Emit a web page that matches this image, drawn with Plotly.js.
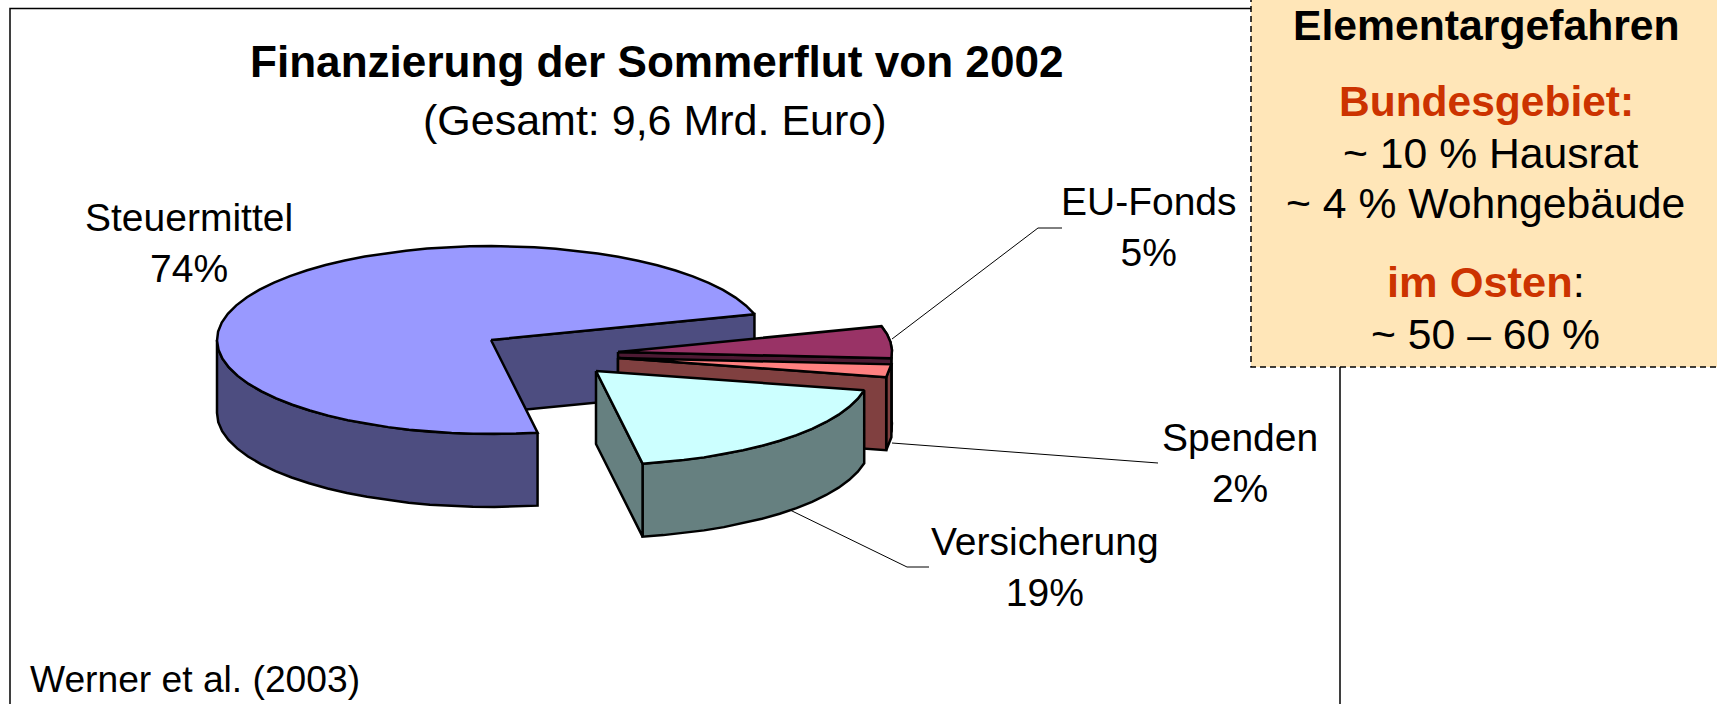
<!DOCTYPE html>
<html>
<head>
<meta charset="utf-8">
<script src="https://cdn.plot.ly/plotly-3.0.1.min.js"></script>
<style>html,body{margin:0;padding:0;background:#fff;overflow:hidden}#chart{width:1717px;height:704px}</style>
</head>
<body>
<div id="chart"></div>
<script>
// ---- data ----
const categories = ["Steuermittel", "EU-Fonds", "Spenden", "Versicherung"];
const shares = [74, 5, 2, 19];

// ---- styling / projection ----
const topColors  = ["#9999FF", "#993366", "#FF8080", "#CCFFFF"];
const sideColors = ["#4D4D80", "#4D1A33", "#804040", "#668080"];
const apexX = [491, 618, 618, 596];
const apexY = [340, 352, 358, 371];
const labelX = [189, 1149, 1240, 1045];
const labelY = [243, 227, 463, 567];
const radiusX = 274, radiusY = 94, depth = 73, firstAngle = -14.5, stepDeg = 5, warpDeg = 3;

const ff = "Liberation Sans, Arial, sans-serif";
// Perspective of the tilted disc: angles shift slightly on the projected ellipse.
const rad = d => (d + warpDeg * Math.sin(2 * d * Math.PI / 180)) * Math.PI / 180;
const total = shares.reduce((a, b) => a + b, 0);

// Slice angles: the 2nd..4th categories follow clockwise from firstAngle, Steuermittel closes the circle.
const spans = shares.map(v => v / total * 360);
const angles = [];
let cursor = firstAngle;
for (const i of [1, 2, 3, 0]) { angles[i] = [cursor, cursor + spans[i]]; cursor += spans[i]; }

function arc(i, a0, a1, dz) {
  const n = Math.max(1, Math.round(Math.abs(a1 - a0) / stepDeg));
  const xs = [], ys = [];
  for (let k = 0; k <= n; k++) {
    const a = rad(a0 + (a1 - a0) * k / n);
    xs.push(apexX[i] + radiusX * Math.cos(a));
    ys.push(apexY[i] + radiusY * Math.sin(a) + dz);
  }
  return [xs, ys];
}
function poly(xs, ys, color) {
  return {type: "scatter", mode: "lines", x: xs.concat(xs[0]), y: ys.concat(ys[0]), fill: "toself",
          fillcolor: color, line: {color: "#000", width: 2.5}, hoverinfo: "skip", showlegend: false};
}
function topFace(i) {
  const [xs, ys] = arc(i, angles[i][0], angles[i][1], 0);
  return poly([apexX[i]].concat(xs), [apexY[i]].concat(ys), topColors[i]);
}
function outerWall(i, a0, a1) {
  const [xt, yt] = arc(i, a0, a1, 0);
  const [xb, yb] = arc(i, a1, a0, depth);
  return poly(xt.concat(xb), yt.concat(yb), sideColors[i]);
}
function radialWall(i, a) {
  const ex = apexX[i] + radiusX * Math.cos(rad(a)), ey = apexY[i] + radiusY * Math.sin(rad(a));
  return poly([apexX[i], ex, ex, apexX[i]], [apexY[i], ey, ey + depth, apexY[i] + depth], sideColors[i]);
}

const traces = [];
// Steuermittel: inner wall, front rim, top
traces.push(radialWall(0, angles[0][1]), outerWall(0, angles[0][0], 180), topFace(0));
// EU-Fonds, Spenden, Versicherung: rim, side wall, top
for (const i of [1, 2, 3]) {
  traces.push(outerWall(i, angles[i][0], angles[i][1]), radialWall(i, angles[i][1]), topFace(i));
}

const text = (str, x, y, size, extra) => Object.assign({
  text: str, x, y, xref: "x", yref: "y", showarrow: false, xanchor: "center", yanchor: "middle",
  font: {family: ff, size, color: "#000"}, align: "center"}, extra || {});
const red = "#CC3300";

const annotations = [
  text("<b>Finanzierung der Sommerflut von 2002</b>", 656, 61, 44.1),
  text("(Gesamt: 9,6 Mrd. Euro)", 655, 120, 43),
  text("Werner et al. (2003)", 28, 679, 37.2, {xanchor: "left"}),
  text("<b>Elementargefahren</b>", 1486, 25, 42.7),
  text('<b><span style="color:' + red + '">Bundesgebiet:</span></b>', 1486, 101, 42.5),
  text("~ 10 % Hausrat", 1491, 153, 42.7),
  text("~ 4 % Wohngebäude", 1485, 203, 42.7),
  text('<b><span style="color:' + red + '">im Osten</span></b>:', 1486, 282, 43.4),
  text("~ 50 – 60 %", 1485, 334, 42.7)
].concat(categories.map((c, i) => text(c + "<br>" + shares[i] + "%", labelX[i], labelY[i], 39)));

const leader = (xs, ys) => ({type: "path", layer: "below", line: {color: "#000", width: 1},
  path: "M" + xs.map((x, k) => x + "," + ys[k]).join(" L")});

const shapes = [
  {type: "rect", layer: "below", x0: 10, y0: 8.5, x1: 1340, y1: 730, line: {color: "#000", width: 1.5}, fillcolor: "#fff"},
  {type: "rect", layer: "below", x0: 1251, y0: -10, x1: 1740, y1: 367, line: {color: "#000", width: 1.5, dash: "6px,4px"}, fillcolor: "#FFE6B8"},
  leader([892, 1038, 1062], [339, 228, 228]),
  leader([892, 1158], [443, 463]),
  leader([790, 907, 929], [510, 567, 567])
];

Plotly.newPlot("chart", traces, {
  width: 1717, height: 704, margin: {l: 0, r: 0, t: 0, b: 0},
  paper_bgcolor: "#fff", plot_bgcolor: "#fff", showlegend: false,
  xaxis: {range: [0, 1717], visible: false, fixedrange: true},
  yaxis: {range: [704, 0], visible: false, fixedrange: true},
  annotations, shapes
}, {displayModeBar: false, staticPlot: true});
</script>
</body>
</html>
